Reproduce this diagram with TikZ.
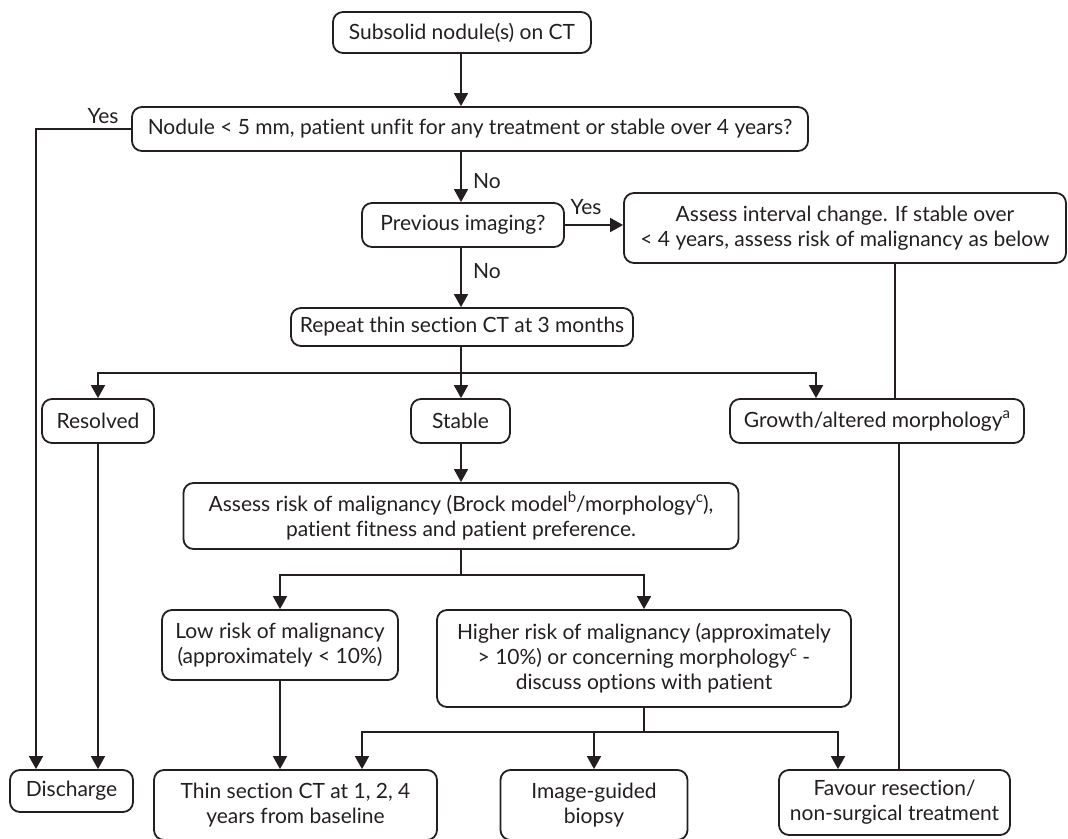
\documentclass[tikz,border=0pt]{standalone}
\usepackage{fontspec}
\setmainfont[Ligatures=NoCommon]{Lato}
\usetikzlibrary{arrows.meta}
\definecolor{ink}{HTML}{231F20}
\tikzset{
  box/.style={draw=ink, line width=1.8pt, rounded corners=10pt, align=center,
    inner sep=0pt, text=ink, font=\fontsize{21}{25}\selectfont},
  link/.style={draw=ink, line width=1.8pt},
  arr/.style={link, -{Triangle[length=13pt,width=14pt]}},
  lbl/.style={text=ink, font=\fontsize{21}{25}\selectfont, inner sep=0pt}
}
\newcommand{\supmark}[1]{\raisebox{0.42em}{\fontsize{15}{15}\selectfont #1}}
\begin{document}
\begin{tikzpicture}[x=1pt,y=-1pt]
\useasboundingbox (0,0) rectangle (1068,838);

% boxes
\node[box, minimum width=258pt, minimum height=41pt] (start) at (462,32.5) {Subsolid nodule(s) on CT};
\node[box, minimum width=676pt, minimum height=44pt] (q1) at (470,129) {Nodule < 5 mm, patient unfit for any treatment or stable over 4 years?};
\node[box, minimum width=202pt, minimum height=44pt] (q2) at (463,225) {Previous imaging?};
\node[box, minimum width=442pt, minimum height=70pt] (interval) at (845,228) {Assess interval change. If stable over\\< 4 years, assess risk of malignancy as below};
\node[box, minimum width=342pt, minimum height=38pt] (repeat) at (462,327) {Repeat thin section CT at 3 months};
\node[box, minimum width=112pt, minimum height=44pt] (resolved) at (98,421) {Resolved};
\node[box, minimum width=99pt, minimum height=44pt] (stable) at (460.5,421) {Stable};
\node[box, minimum width=294pt, minimum height=44pt] (growth) at (877,421) {Growth/altered morphology\supmark{a}};
\node[box, minimum width=555pt, minimum height=66pt] (assess) at (461,516) {Assess risk of malignancy (Brock model\supmark{b}/morphology\supmark{c}),\\patient fitness and patient preference.};
\node[box, minimum width=236pt, minimum height=70pt] (low) at (280,645) {Low risk of malignancy\\(approximately < 10\%)};
\node[box, minimum width=414pt, minimum height=97pt] (higher) at (644,658.5) {Higher risk of malignancy (approximately\\> 10\%) or concerning morphology\supmark{c} -\\discuss options with patient};
\node[box, minimum width=123pt, minimum height=42pt] (dch) at (71.5,791) {Discharge};
\node[box, minimum width=283pt, minimum height=70pt] (thin) at (295.5,805) {Thin section CT at 1, 2, 4\\years from baseline};
\node[box, minimum width=187pt, minimum height=70pt] (image) at (594,805) {Image-guided\\biopsy};
\node[box, minimum width=231pt, minimum height=65pt] (favour) at (894.5,802.5) {Favour resection/\\non-surgical treatment};

% routing columns and junctions
\coordinate (cx) at (461,0);
\coordinate (lx) at (36,0);
\coordinate (gx) at (816,0);
\coordinate (ix) at (895,0);
\coordinate (fx) at (899,0);
\coordinate (t2x) at (362,0);
\coordinate (f2x) at (838,0);
\coordinate (j1) at (461,373);
\coordinate (j2) at (461,575);
\coordinate (j3) at (644,732);

% connectors
\draw[arr] (start.south -| cx) -- (q1.north -| cx);
\draw[arr] (q1.west) -| (lx |- dch.north);
\node[lbl] (yes1) at (103,116) {Yes};
\draw[arr] (q1.south -| cx) -- (q2.north -| cx);
\node[lbl] (no1) at (487,181) {No};
\draw[arr] (q2.east) -- (q2.east -| interval.west);
\node[lbl] (yes2) at (586,207) {Yes};
\draw[arr] (q2.south -| cx) -- (repeat.north -| cx);
\node[lbl] (no2) at (487,271) {No};

\draw[link] (repeat.south -| j1) -- (j1);
\draw[arr] (j1) -| (resolved.north);
\draw[arr] (j1) -- (stable.north -| j1);
\draw[arr] (j1) -| (gx |- growth.north);
\draw[link] (interval.south -| ix) -- (growth.north -| ix);
\draw[link] (growth.south -| fx) -- (favour.north -| fx);
\draw[arr] (resolved.south) -- (resolved.south |- dch.north);

\draw[arr] (stable.south -| cx) -- (assess.north -| cx);
\draw[link] (assess.south -| j2) -- (j2);
\draw[arr] (j2) -| (low.north);
\draw[arr] (j2) -| (higher.north);

\draw[arr] (low.south) -- (low.south |- thin.north);
\draw[link] (higher.south) -- (j3);
\draw[arr] (j3) -| (t2x |- thin.north);
\draw[arr] (j3) -| (image.north);
\draw[arr] (j3) -| (f2x |- favour.north);
\end{tikzpicture}
\end{document}
